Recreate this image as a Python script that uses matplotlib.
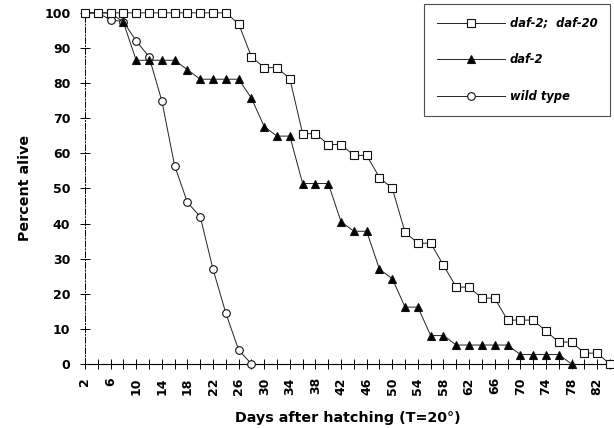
import numpy as np
import matplotlib

matplotlib.use("Agg")
import matplotlib.pyplot as plt
from matplotlib.ticker import MultipleLocator

plt.rcParams["font.family"] = ["DejaVu Sans"]

# survival curves, percent alive every 2 days
days_double = list(range(2, 86, 2))
alive_double = [100, 100, 100, 100, 100, 100, 100, 100, 100, 100, 100, 100,
                96.9, 87.5, 84.4, 84.4, 81.25, 65.6, 65.6, 62.5, 62.5, 59.4,
                59.4, 53.1, 50.0, 37.5, 34.4, 34.4, 28.1, 21.9, 21.9, 18.75,
                18.75, 12.5, 12.5, 12.5, 9.4, 6.25, 6.25, 3.1, 3.1, 0]

days_daf2 = list(range(2, 80, 2))
alive_daf2 = [100, 100, 100, 97.3, 86.5, 86.5, 86.5, 86.5, 83.8, 81.1, 81.1,
              81.1, 81.1, 75.7, 67.6, 64.9, 64.9, 51.4, 51.4, 51.4, 40.5, 37.8,
              37.8, 27.0, 24.3, 16.2, 16.2, 8.1, 8.1, 5.4, 5.4, 5.4, 5.4, 5.4,
              2.7, 2.7, 2.7, 2.7, 0]

days_wild = list(range(2, 30, 2))
alive_wild = [100, 100, 98, 97.5, 92, 87.5, 75, 56.5, 46, 42, 27, 14.5, 4, 0]

fig = plt.figure(figsize=(6.14, 4.28), dpi=100)
ax = fig.add_axes([0.1384, 0.1495, 0.855, 0.8205])

line_kw = dict(color="#222222", linewidth=0.7, markersize=5.5,
               markeredgewidth=0.8, markeredgecolor="#111111", clip_on=False)
ax.plot(days_wild, alive_wild, marker="o", markerfacecolor="white",
        label="wild type", zorder=3, **line_kw)
ax.plot(days_daf2, alive_daf2, marker="^", markerfacecolor="black",
        label="daf-2", zorder=4, **line_kw)
ax.plot(days_double, alive_double, marker="s", markerfacecolor="white",
        label="daf-2;  daf-20", zorder=5, **line_kw)

ax.set_xlim(2, 84)
ax.set_ylim(0, 100)
ax.spines["top"].set_visible(False)
ax.spines["right"].set_visible(False)
ax.spines["left"].set_linestyle((0, (6, 2, 1, 2)))
ax.spines["left"].set_linewidth(0.7)
ax.spines["bottom"].set_linewidth(0.8)

ax.set_xticks(list(range(2, 84, 4)))
ax.set_xticks(list(range(4, 86, 4)), minor=True)
ax.yaxis.set_major_locator(MultipleLocator(10))
ax.tick_params(axis="both", which="both", direction="inout", length=7,
               width=0.7, labelsize=9)
ax.tick_params(axis="x", which="major", pad=6)
ax.tick_params(axis="y", which="major", pad=7)
for lab in ax.get_xticklabels():
    lab.set_rotation(90)
    lab.set_fontweight("bold")
for lab in ax.get_yticklabels():
    lab.set_fontweight("bold")

ax.set_xlabel("Days after hatching (T=20°)", fontsize=10.3,
              fontweight="bold", labelpad=12)
ax.set_ylabel("Percent alive", fontsize=10.3, fontweight="bold", labelpad=9)

handles, labels = ax.get_legend_handles_labels()
leg = ax.legend(handles[::-1], labels[::-1], loc="upper right",
                bbox_to_anchor=(0.9935, 0.9907),
                bbox_transform=fig.transFigure, frameon=True, fancybox=False,
                numpoints=1, handlelength=5.9, handletextpad=0.45,
                labelspacing=2.05, borderpad=1.1, borderaxespad=0,
                prop={"style": "italic", "weight": "bold", "size": 8.3})
leg.get_frame().set_edgecolor("#222222")
leg.get_frame().set_linewidth(0.8)

fig.savefig("out.png", dpi=100)
